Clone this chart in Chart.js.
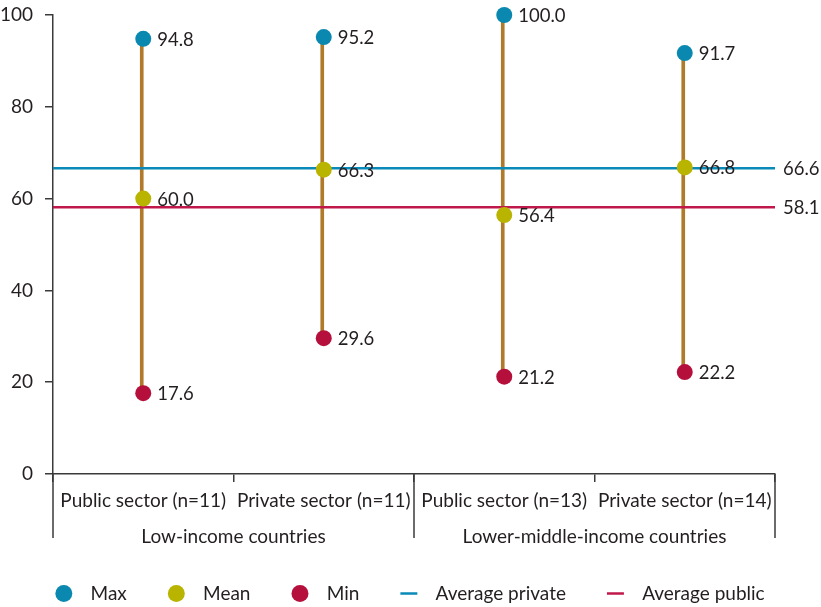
<!DOCTYPE html>
<html>
<head>
<meta charset="utf-8">
<script src="https://cdn.jsdelivr.net/npm/chart.js@4"></script>
<style>
  html, body { margin: 0; padding: 0; background: #fff; }
  #wrap { width: 821px; height: 607px; }
</style>
</head>
<body>
<div id="wrap"><canvas id="chart"></canvas></div>
<script>
const categories = ["Public sector (n=11)", "Private sector (n=11)", "Public sector (n=13)", "Private sector (n=14)"];
const groups = ["Low-income countries", "Lower-middle-income countries"];
const maxValues = [94.8, 95.2, 100.0, 91.7];
const meanValues = [60.0, 66.3, 56.4, 66.8];
const minValues = [17.6, 29.6, 21.2, 22.2];
const avgPrivate = 66.6;
const avgPublic = 58.1;
const yTicks = [0, 20, 40, 60, 80, 100];

const FONT = "Lato";
const TEXT = "#231f20";
const AXIS = "#3a3a3a";

// value labels next to the dots and at the end of the average lines
const valueLabels = {
  id: "valueLabels",
  afterDatasetsDraw(chart) {
    const ctx = chart.ctx;
    ctx.save();
    ctx.font = "18.5px " + FONT;
    ctx.fillStyle = TEXT;
    ctx.textBaseline = "middle";
    ctx.textAlign = "left";
    chart.data.datasets.forEach((ds, i) => {
      const meta = chart.getDatasetMeta(i);
      if (ds.pointLabels) {
        meta.data.forEach((pt, j) => {
          ctx.fillText(ds.data[j].toFixed(1), pt.x + 14, pt.y + 1);
        });
      }
      if (ds.endLabel) {
        const y = chart.scales.y.getPixelForValue(ds.data[0].y);
        ctx.fillText(ds.data[0].y.toFixed(1), chart.chartArea.right + 8, y + 1);
      }
    });
    ctx.restore();
  }
};

// group brackets under the x axis
const groupAxis = {
  id: "groupAxis",
  afterDraw(chart) {
    const ctx = chart.ctx;
    const x = chart.scales.x;
    const top = chart.chartArea.bottom;
    const bottom = top + 64;
    const edges = [chart.chartArea.left, x.getPixelForValue(1.5), chart.chartArea.right];
    ctx.save();
    ctx.strokeStyle = AXIS;
    ctx.lineWidth = 1.5;
    edges.forEach((ex) => {
      ctx.beginPath();
      ctx.moveTo(ex, top);
      ctx.lineTo(ex, bottom);
      ctx.stroke();
    });
    ctx.font = "19px " + FONT;
    ctx.fillStyle = TEXT;
    ctx.textAlign = "center";
    ctx.textBaseline = "middle";
    groups.forEach((g, i) => {
      ctx.fillText(g, (edges[i] + edges[i + 1]) / 2, top + 63);
    });
    ctx.restore();
  }
};

new Chart(document.getElementById("chart"), {
  type: "bar",
  data: {
    labels: categories,
    datasets: [
      {
        label: "Range",
        data: minValues.map((v, i) => [v, maxValues[i]]),
        backgroundColor: "#b07a2a",
        barThickness: 3,
        order: 10
      },
      {
        type: "line",
        label: "Max",
        data: maxValues,
        showLine: false,
        pointStyle: "circle",
        pointRadius: 8,
        pointHoverRadius: 8,
        backgroundColor: "#0a88b0",
        borderColor: "#0a88b0",
        borderWidth: 0,
        pointLabels: true,
        clip: false,
        order: 1
      },
      {
        type: "line",
        label: "Mean",
        data: meanValues,
        showLine: false,
        pointStyle: "circle",
        pointRadius: 8,
        pointHoverRadius: 8,
        backgroundColor: "#b9b400",
        borderColor: "#b9b400",
        borderWidth: 0,
        pointLabels: true,
        clip: false,
        order: 1
      },
      {
        type: "line",
        label: "Min",
        data: minValues,
        showLine: false,
        pointStyle: "circle",
        pointRadius: 8,
        pointHoverRadius: 8,
        backgroundColor: "#b5103c",
        borderColor: "#b5103c",
        borderWidth: 0,
        pointLabels: true,
        clip: false,
        order: 1
      },
      {
        type: "line",
        label: "Average private",
        xAxisID: "x2",
        data: [{ x: 0, y: avgPrivate }, { x: 4, y: avgPrivate }],
        borderColor: "#0a8ab8",
        backgroundColor: "#0a8ab8",
        borderWidth: 2.5,
        pointRadius: 0,
        pointStyle: "line",
        endLabel: true,
        clip: false,
        order: 5
      },
      {
        type: "line",
        label: "Average public",
        xAxisID: "x2",
        data: [{ x: 0, y: avgPublic }, { x: 4, y: avgPublic }],
        borderColor: "#c0184a",
        backgroundColor: "#c0184a",
        borderWidth: 2.5,
        pointRadius: 0,
        pointStyle: "line",
        endLabel: true,
        clip: false,
        order: 5
      }
    ]
  },
  options: {
    responsive: true,
    maintainAspectRatio: false,
    animation: false,
    layout: { padding: { top: 15, right: 0, left: 0, bottom: -6 } },
    plugins: {
      tooltip: { enabled: false },
      legend: {
        position: "bottom",
        labels: {
          generateLabels: (chart) => {
            const items = Chart.defaults.plugins.legend.labels.generateLabels(chart);
            items.forEach((it) => { it.text = "  " + it.text; });
            return items;
          },
          filter: (item) => item.datasetIndex !== 0,
          usePointStyle: true,
          boxWidth: 15,
          boxHeight: 12,
          padding: 42,
          color: TEXT,
          font: { family: FONT, size: 19 }
        }
      }
    },
    scales: {
      x: {
        offset: true,
        grid: { drawOnChartArea: false, offset: true, tickLength: 8, color: AXIS, lineWidth: 1.5 },
        border: { color: AXIS, width: 1.5 },
        ticks: { color: TEXT, font: { family: FONT, size: 19 }, padding: 7, maxRotation: 0 },
        afterFit: (s) => { s.height = 68; s.paddingLeft = 0; s.paddingRight = 0; }
      },
      x2: {
        type: "linear",
        display: false,
        offset: false,
        min: 0,
        max: 4
      },
      y: {
        min: 0,
        max: 100,
        afterBuildTicks: (s) => { s.ticks = yTicks.map((v) => ({ value: v })); },
        grid: { drawOnChartArea: false, tickLength: 8, color: AXIS, lineWidth: 1.5 },
        border: { color: AXIS, width: 1.5 },
        ticks: { color: TEXT, font: { family: FONT, size: 19 }, padding: 12 },
        afterFit: (s) => { s.width = 53; s.paddingTop = 0; s.paddingBottom = 0; }
      },
      // empty right-hand axis keeps room for the average labels
      yRight: {
        position: "right",
        min: 0,
        max: 100,
        grid: { display: false },
        border: { display: false },
        ticks: { display: false },
        afterFit: (s) => { s.width = 46; s.paddingTop = 0; s.paddingBottom = 0; }
      }
    }
  },
  plugins: [valueLabels, groupAxis]
});
</script>
</body>
</html>
